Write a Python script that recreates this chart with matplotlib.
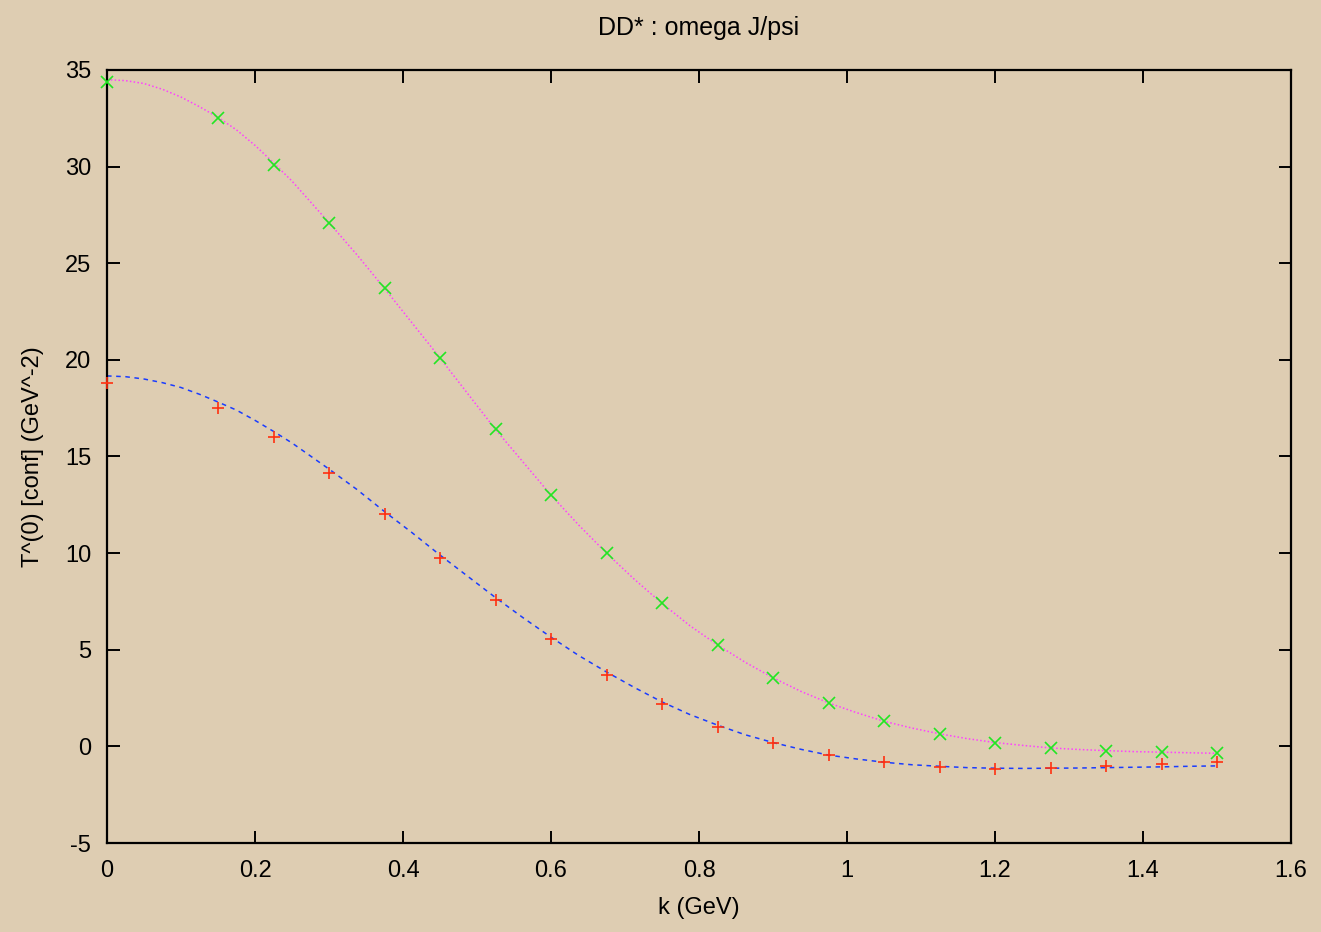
import matplotlib
matplotlib.use("Agg")
import matplotlib.pyplot as plt

k = [0.0, 0.15, 0.225, 0.3, 0.375, 0.45, 0.525, 0.6, 0.675, 0.75, 0.825,
     0.9, 0.975, 1.05, 1.125, 1.2, 1.275, 1.35, 1.425, 1.5]
green_pts = [34.4, 32.5, 30.1, 27.1, 23.7, 20.1, 16.4, 13.0, 10.0, 7.4, 5.25,
             3.55, 2.25, 1.3, 0.65, 0.2, -0.1, -0.22, -0.29, -0.33]
red_pts = [18.8, 17.5, 16.0, 14.15, 12.0, 9.75, 7.55, 5.55, 3.7, 2.2, 1.0,
           0.15, -0.45, -0.82, -1.05, -1.15, -1.1, -1.0, -0.9, -0.8]

k_curve = [0.0, 0.025, 0.05, 0.075, 0.1, 0.125, 0.15, 0.175, 0.2, 0.225, 0.25,
           0.3, 0.3375, 0.375, 0.4125, 0.45, 0.4875, 0.525, 0.5625, 0.6, 0.6375,
           0.675, 0.7125, 0.75, 0.7875, 0.825, 0.8625, 0.9, 0.9375, 0.975, 1.0125,
           1.05, 1.0875, 1.125, 1.1625, 1.2, 1.2375, 1.275, 1.3125, 1.35, 1.3875,
           1.425, 1.4625, 1.5]
magenta_curve = [34.5, 34.45, 34.3, 34.0, 33.6, 33.1, 32.55, 31.9, 31.1, 30.2, 29.25,
                 27.1, 25.45, 23.7, 21.9, 20.1, 18.25, 16.4, 14.7, 13.0, 11.45,
                 10.0, 8.65, 7.4, 6.25, 5.25, 4.35, 3.55, 2.85, 2.25, 1.75,
                 1.3, 0.95, 0.65, 0.4, 0.2, 0.05, -0.08, -0.16, -0.22, -0.27,
                 -0.3, -0.33, -0.36]
blue_curve = [19.17, 19.13, 19.01, 18.82, 18.57, 18.22, 17.82, 17.4, 16.87, 16.3, 15.7,
              14.35, 13.3, 12.15, 11.05, 9.9, 8.8, 7.7, 6.65, 5.65, 4.7,
              3.85, 3.05, 2.3, 1.65, 1.1, 0.6, 0.2, -0.15, -0.45, -0.65,
              -0.82, -0.95, -1.03, -1.1, -1.13, -1.14, -1.13, -1.12, -1.1, -1.08,
              -1.06, -1.03, -1.01]

xticks = [0, 0.2, 0.4, 0.6, 0.8, 1, 1.2, 1.4, 1.6]
xtick_labels = ["0", "0.2", "0.4", "0.6", "0.8", "1", "1.2", "1.4", "1.6"]
yticks = [-5, 0, 5, 10, 15, 20, 25, 30, 35]

bg = "#DECDB2"
plt.rcParams['font.family'] = ['Liberation Sans', 'DejaVu Sans']
plt.rcParams['axes.unicode_minus'] = False

fig = plt.figure(figsize=(13.21, 9.32), dpi=100, facecolor=bg)
ax = fig.add_axes([107/1321, 89/932, (1291-107)/1321, (843-70)/932])
ax.set_facecolor(bg)

ax.plot(k_curve, magenta_curve, color="#ff40ff", lw=1.1, ls=(0, (1, 1.5)), zorder=2)
ax.plot(k_curve, blue_curve, color="#1a3cff", lw=1.1, ls=(0, (3, 3)), zorder=2)
ax.plot(k, red_pts, ls="none", marker="+", ms=9, mew=1.2, color="#ff3010",
        zorder=3, clip_on=False)
ax.plot(k, green_pts, ls="none", marker="x", ms=8, mew=1.2, color="#22e622",
        zorder=3, clip_on=False)

ax.set_xlim(0, 1.6)
ax.set_ylim(-5, 35)
ax.set_xticks(xticks)
ax.set_xticklabels(xtick_labels)
ax.set_yticks(yticks)
ax.tick_params(direction="in", length=9, width=1.4, labelsize=17, top=True, right=True)
ax.tick_params(axis="x", pad=12)
ax.tick_params(axis="y", pad=11.5)
for s in ax.spines.values():
    s.set_linewidth(1.6)

ax.set_xlabel("k (GeV)", fontsize=17, va="center")
ax.xaxis.set_label_coords(0.5, (843 - 908) / 773)
ax.set_ylabel("T^(0) [conf] (GeV^-2)", fontsize=17, va="center")
ax.yaxis.set_label_coords((33 - 107) / 1184, 0.5)
fig.text((107 + 1291) / 2 / 1321, 1 - 28/932, "DD* : omega J/psi",
         ha="center", va="center", fontsize=18)

fig.savefig("out.png", dpi=100, facecolor=bg)
